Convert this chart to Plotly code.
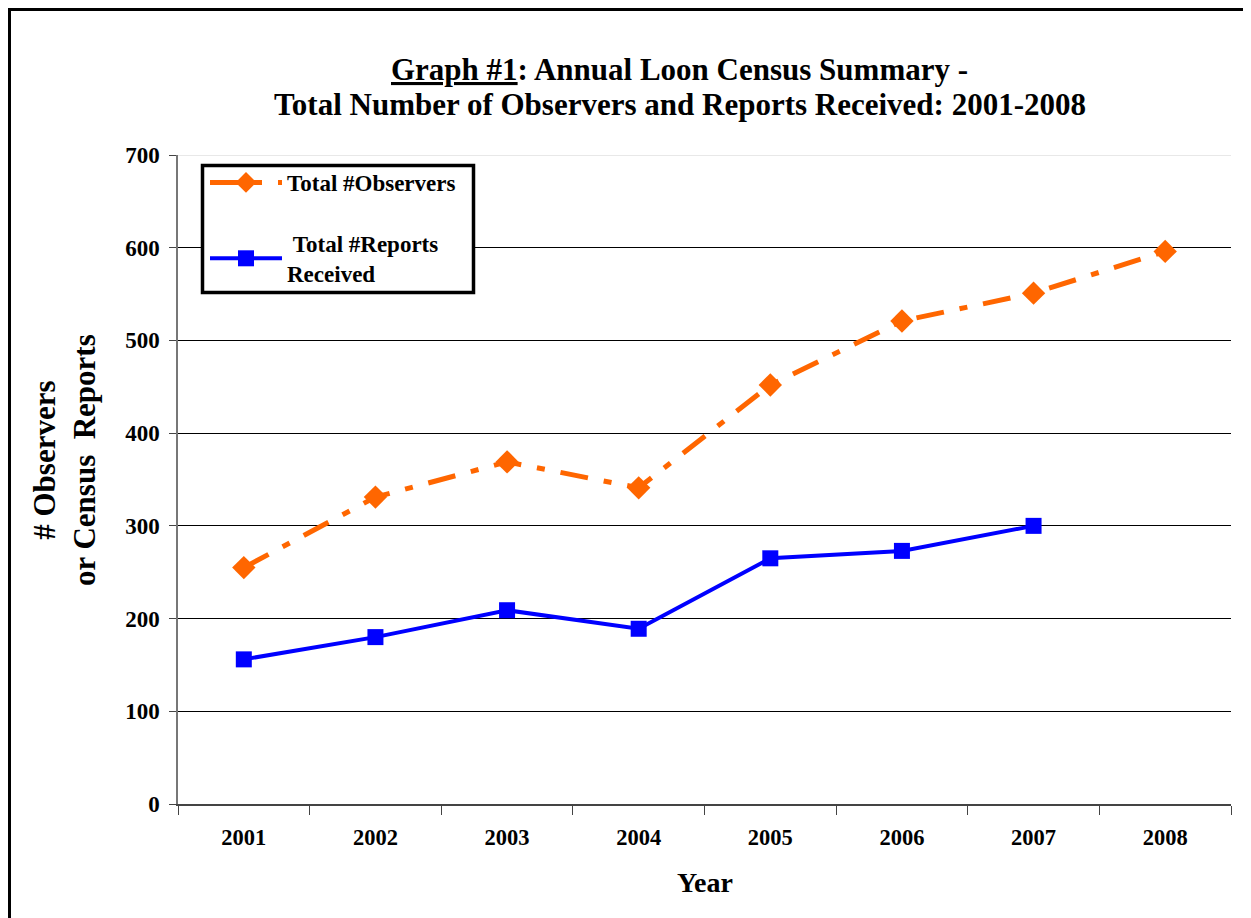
import plotly.graph_objects as go

years = ["2001", "2002", "2003", "2004", "2005", "2006", "2007", "2008"]
observers = [255, 331, 369, 341, 452, 521, 551, 596]
reports = [156, 180, 209, 189, 265, 273, 300, None]
y_ticks = [0, 100, 200, 300, 400, 500, 600, 700]

OFF = 8  # page body margin
W, H = 1251 - OFF, 918 - OFF
# plot area in page pixels: x 178..1231, y 155..804
L, T = 178 - OFF, 155 - OFF
R = W - (1231 - OFF)
B = H - (804 - OFF)
pw, ph = W - L - R, H - T - B

def px_x(p):  # page pixel -> paper
    return (p - OFF - L) / pw

def px_y(p):
    return (H - B - (p - OFF)) / ph

FONT = "Liberation Serif"

def f(size):
    return dict(family=FONT, size=size, color="black", weight="bold")

fig = go.Figure()
fig.add_trace(go.Scatter(
    x=years, y=observers, name="Total #Observers", mode="lines+markers",
    legendgroup="obs",
    line=dict(color="#FF6600", width=5, dash="28px,16px,8px,16px"),
    marker=dict(symbol="diamond", size=18, color="#FF6600"),
))
fig.add_trace(go.Scatter(
    x=years, y=reports, name="&nbsp;Total #Reports<br>Received", mode="lines+markers",
    legendgroup="rep",
    line=dict(color="#0000FF", width=4),
    marker=dict(symbol="square", size=16, color="#0000FF"),
))

fig.update_layout(
    width=W, height=H,
    margin=dict(l=L, r=R, t=T, b=B),
    paper_bgcolor="white", plot_bgcolor="white",
    font=dict(family=FONT, color="black", size=20),
    showlegend=True,
    legend=dict(
        x=px_x(205), y=px_y(161), xanchor="left", yanchor="top",
        borderwidth=0, bgcolor="rgba(0,0,0,0)",
        font=f(23), traceorder="grouped",
        tracegroupgap=28, itemwidth=72,
    ),
    xaxis=dict(
        type="category", tickson="boundaries", ticks="outside", ticklen=9,
        tickcolor="#444", showline=True, linecolor="#444", linewidth=1.5,
        showgrid=False, tickfont=f(22.5), ticklabelstandoff=12,
        range=[-0.5, 7.5],
    ),
    yaxis=dict(
        range=[0, 700], tickvals=y_ticks, ticks="outside", ticklen=7,
        tickcolor="#444", showline=True, linecolor="#777", linewidth=1.5,
        showgrid=True, gridcolor="black", gridwidth=1, zeroline=False,
        tickfont=f(23), ticklabelstandoff=5,
    ),
)

# Top gridline light gray
fig.add_shape(type="line", xref="paper", yref="y", x0=0, x1=1, y0=y_ticks[-1], y1=y_ticks[-1],
              line=dict(color="#e0e0e0", width=1.5))

# Legend frame
fig.add_shape(type="rect", xref="paper", yref="paper", layer="above",
              x0=px_x(202.5), x1=px_x(473.5), y0=px_y(165.5), y1=px_y(292.5),
              line=dict(color="black", width=3.5), fillcolor="white")

# Outer border (left and top visible)
fig.add_shape(type="line", xref="paper", yref="paper", x0=px_x(9.5), x1=px_x(9.5), y0=px_y(8), y1=px_y(960),
              line=dict(color="black", width=3))
fig.add_shape(type="line", xref="paper", yref="paper", x0=px_x(8), x1=px_x(1300), y0=px_y(9.5), y1=px_y(9.5),
              line=dict(color="black", width=3))

def ann(text, x, y, size, angle=0):
    fig.add_annotation(
        xref="paper", yref="paper", x=px_x(x), y=px_y(y), showarrow=False,
        xanchor="center", yanchor="middle", textangle=angle,
        text=text, font=f(size),
    )

# Title
ann("<u>Graph #1</u>: Annual Loon Census Summary -", 679, 69, 31)
ann("Total Number of Observers and Reports Received: 2001-2008", 680, 105, 31)
# Axis titles
ann("# Observers<br>or Census  Reports", 64, 460, 31, -90)
ann("Year", 705, 882, 28)

fig.write_html("out.html")
